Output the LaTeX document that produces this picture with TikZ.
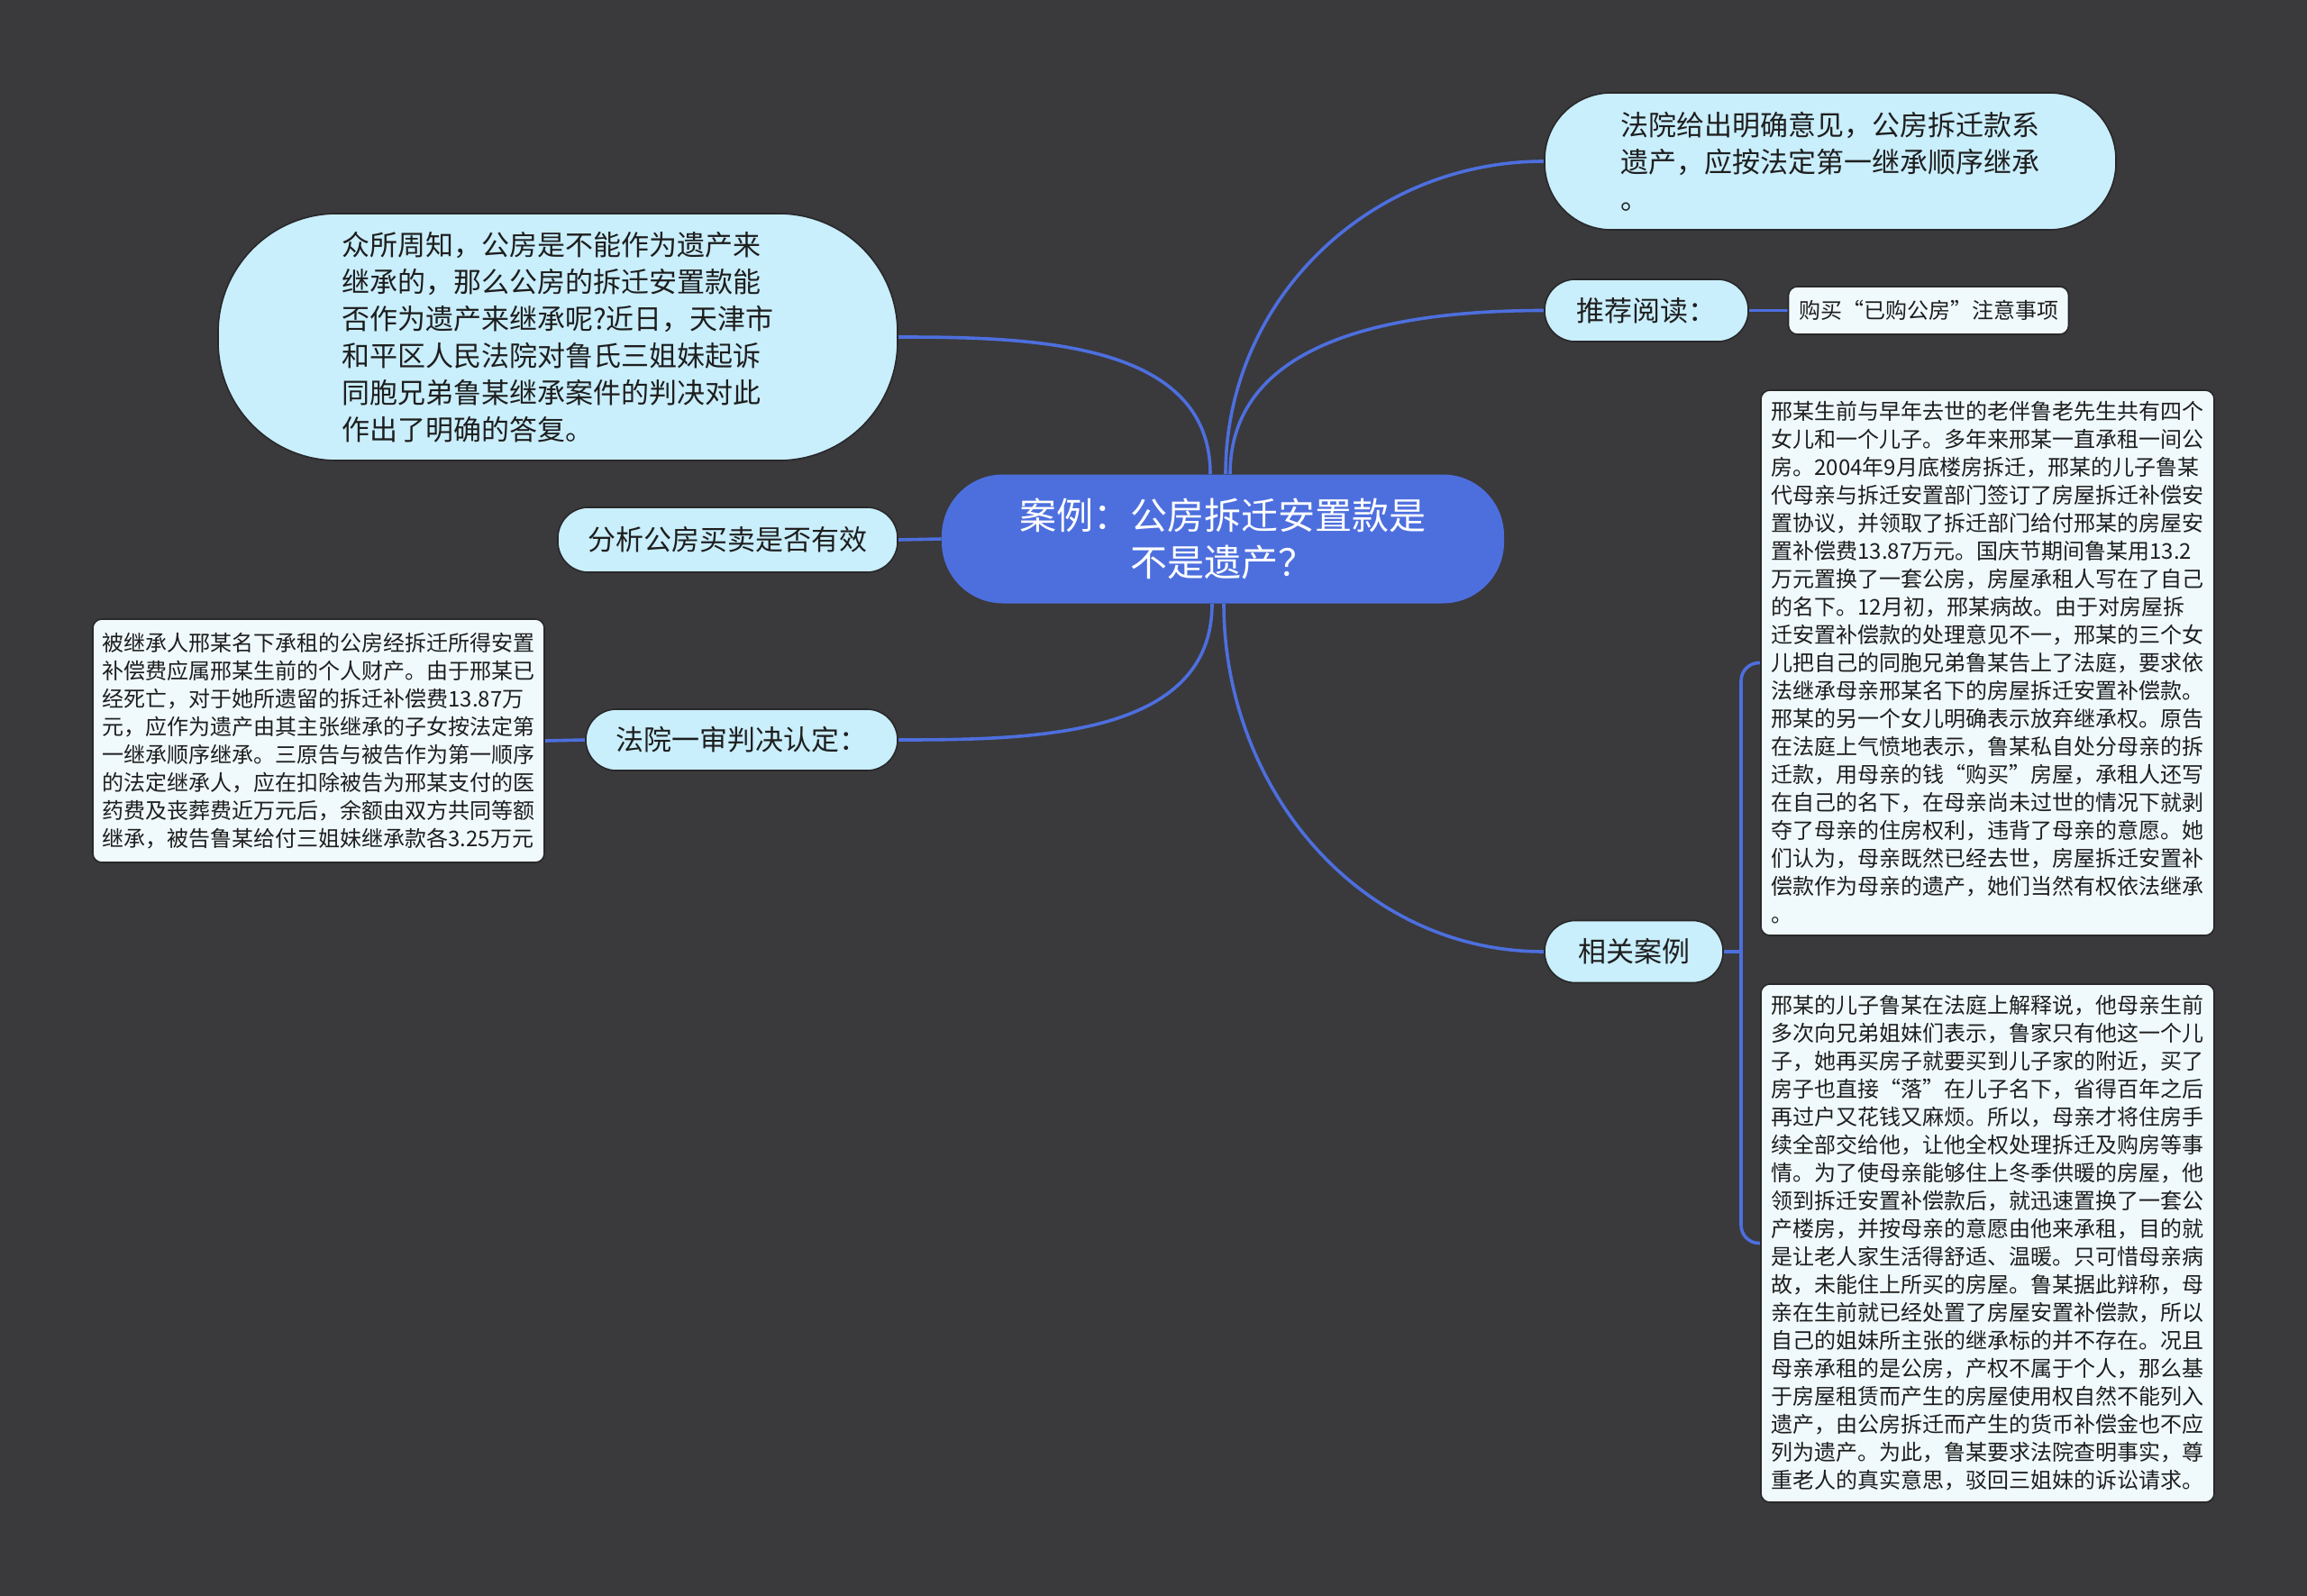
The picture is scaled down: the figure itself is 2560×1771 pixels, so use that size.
\documentclass[tikz,border=0pt]{standalone}
\usepackage{fontspec}
\setmainfont{Noto Sans CJK SC}
\usetikzlibrary{backgrounds}
\definecolor{fond}{RGB}{58,57,60}
\definecolor{bleucentre}{RGB}{77,111,222}
\definecolor{bleupale}{RGB}{201,238,252}
\definecolor{papier}{RGB}{240,250,253}
\definecolor{texte}{RGB}{30,30,30}
\definecolor{bord}{RGB}{40,40,42}
\tikzset{
  racine/.style={fill=bleucentre, text=white, rounded corners=34pt, align=center, inner sep=0pt,
    font=\fontsize{20.5}{26}\selectfont, minimum width=312pt, minimum height=71.5pt},
  bulle/.style={fill=bleupale, draw=bord, line width=0.8pt, text=texte, rounded corners=#1, align=left,
    inner sep=0pt, font=\fontsize{15.5}{20.5}\selectfont},
  bulle/.default=17pt,
  fiche/.style={fill=papier, draw=bord, line width=0.8pt, text=texte, rounded corners=5pt, align=left,
    inner sep=0pt, font=\fontsize{12}{15.5}\selectfont},
  lien/.style={draw=bleucentre, line width=1.8pt},
}
\begin{document}
\begin{tikzpicture}[x=0.5pt, y=-0.5pt]
    % Sujet central
    \node[racine] (racine) at (1357,598) {案例：公房拆迁安置款是\\不是遗产？};
    % Branches de gauche
    \node[bulle=66pt, minimum width=377pt, minimum height=137pt] (intro) at (619,374)
      {众所周知，公房是不能作为遗产来\\继承的，那么公房的拆迁安置款能\\否作为遗产来继承呢?近日，天津市\\和平区人民法院对鲁氏三姐妹起诉\\同胞兄弟鲁某继承案件的判决对此\\作出了明确的答复。};
    \node[bulle, minimum width=188.5pt, minimum height=36pt] (analyse) at (807.5,599) {分析公房买卖是否有效};
    \node[bulle, minimum width=173pt, minimum height=34pt] (jugement) at (823,821) {法院一审判决认定：};
    \node[fiche, minimum width=250.5pt, minimum height=135pt] (attendu) at (353.5,822)
      {被继承人邢某名下承租的公房经拆迁所得安置\\补偿费应属邢某生前的个人财产。由于邢某已\\经死亡，对于她所遗留的拆迁补偿费13.87万\\元，应作为遗产由其主张继承的子女按法定第\\一继承顺序继承。三原告与被告作为第一顺序\\的法定继承人，应在扣除被告为邢某支付的医\\药费及丧葬费近万元后，余额由双方共同等额\\继承，被告鲁某给付三姐妹继承款各3.25万元};
    % Branches de droite
    \node[bulle=37pt, minimum width=317pt, minimum height=76pt] (avis) at (2031,179)
      {法院给出明确意见，公房拆迁款系\\遗产，应按法定第一继承顺序继承\\。};
    \node[bulle, minimum width=113pt, minimum height=34.5pt] (lecture) at (1827,344.5) {推荐阅读：};
    \node[fiche, minimum width=155.5pt, minimum height=26.5pt] (lien-lecture) at (2140,344.5) {购买“已购公房”注意事项};
    \node[bulle, minimum width=99pt, minimum height=34.5pt] (cas) at (1813,1056) {相关案例};
    \node[fiche, minimum width=251.5pt, minimum height=302.5pt] (fiche1) at (2205.5,735.5)
      {邢某生前与早年去世的老伴鲁老先生共有四个\\女儿和一个儿子。多年来邢某一直承租一间公\\房。2004年9月底楼房拆迁，邢某的儿子鲁某\\代母亲与拆迁安置部门签订了房屋拆迁补偿安\\置协议，并领取了拆迁部门给付邢某的房屋安\\置补偿费13.87万元。国庆节期间鲁某用13.2\\万元置换了一套公房，房屋承租人写在了自己\\的名下。12月初，邢某病故。由于对房屋拆\\迁安置补偿款的处理意见不一，邢某的三个女\\儿把自己的同胞兄弟鲁某告上了法庭，要求依\\法继承母亲邢某名下的房屋拆迁安置补偿款。\\邢某的另一个女儿明确表示放弃继承权。原告\\在法庭上气愤地表示，鲁某私自处分母亲的拆\\迁款，用母亲的钱“购买”房屋，承租人还写\\在自己的名下，在母亲尚未过世的情况下就剥\\夺了母亲的住房权利，违背了母亲的意愿。她\\们认为，母亲既然已经去世，房屋拆迁安置补\\偿款作为母亲的遗产，她们当然有权依法继承\\。};
    \node[fiche, minimum width=251.5pt, minimum height=287.5pt] (fiche2) at (2205.5,1379.5)
      {邢某的儿子鲁某在法庭上解释说，他母亲生前\\多次向兄弟姐妹们表示，鲁家只有他这一个儿\\子，她再买房子就要买到儿子家的附近，买了\\房子也直接“落”在儿子名下，省得百年之后\\再过户又花钱又麻烦。所以，母亲才将住房手\\续全部交给他，让他全权处理拆迁及购房等事\\情。为了使母亲能够住上冬季供暖的房屋，他\\领到拆迁安置补偿款后，就迅速置换了一套公\\产楼房，并按母亲的意愿由他来承租，目的就\\是让老人家生活得舒适、温暖。只可惜母亲病\\故，未能住上所买的房屋。鲁某据此辩称，母\\亲在生前就已经处置了房屋安置补偿款，所以\\自己的姐妹所主张的继承标的并不存在。况且\\母亲承租的是公房，产权不属于个人，那么基\\于房屋租赁而产生的房屋使用权自然不能列入\\遗产，由公房拆迁而产生的货币补偿金也不应\\列为遗产。为此，鲁某要求法院查明事实，尊\\重老人的真实意思，驳回三姐妹的诉讼请求。};
    % Fond et liens
    \begin{scope}[on background layer]
      \fill[fond] (0,0) rectangle (2560,1771);
      \draw[lien] ([xshift=-7pt]racine.north) to[out=90,in=0] (intro.east);
      \draw[lien] ([xshift=1.5pt]racine.north) to[out=90,in=180] (avis.west);
      \draw[lien] ([xshift=4pt]racine.north) to[out=90,in=180] (lecture.west);
      \draw[lien] (racine.west) -- (analyse.east);
      \draw[lien] ([xshift=-6pt]racine.south) to[out=-90,in=0] (jugement.east);
      \draw[lien] ([xshift=0.5pt]racine.south) to[out=-90,in=180] (cas.west);
      \draw[lien] (lecture.east) -- (lien-lecture.west);
      \draw[lien] (jugement.west) -- (attendu.east);
      \coordinate (tige) at (1932,1056);
      \draw[lien] (cas.east) -- (tige);
      \draw[lien, rounded corners=10pt] (fiche1.west) -| (tige) |- (fiche2.west);
    \end{scope}
  \end{tikzpicture}
\end{document}
